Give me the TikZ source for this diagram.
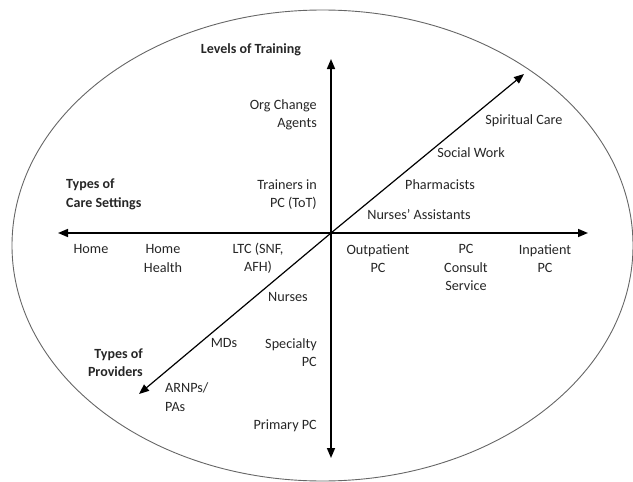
\documentclass[tikz,border=0pt]{standalone}
\usepackage{fontspec}
\setmainfont{Carlito}
\usetikzlibrary{arrows.meta}
\begin{document}
\begin{tikzpicture}[x=1pt,y=-1pt,
  lbl/.style={inner sep=0pt,text=black!85,font=\fontsize{14.2}{18.5}\selectfont},
  head/.style={lbl,font=\fontsize{14}{18.5}\selectfont\bfseries},
  axis/.style={line width=1.6pt,-{Triangle[length=10pt,width=8pt]}},
  rim/.style={draw=black!60,line width=0.9pt}]
\useasboundingbox (0,0) rectangle (633,482);
% enclosing ellipse
\draw[rim] (322.5,245.5) ellipse [x radius=310.5, y radius=235.5];
% axis end points
\coordinate (O) at (331,233);
\coordinate (N) at (331,59);
\coordinate (S) at (331,458);
\coordinate (W) at (58,233);
\coordinate (E) at (588,233);
\coordinate (NE) at (524,74);
\coordinate (SW) at (139,394);
\draw[axis] (O) -- (N);
\draw[axis] (O) -- (S);
\draw[axis] (O) -- (W);
\draw[axis] (O) -- (E);
\draw[axis,line width=1.2pt] (O) -- (NE);
\draw[axis,line width=1.2pt] (O) -- (SW);
% axis titles
\node[head] (tTrain) at (251,50) {Levels of Training};
\node[head,align=left,anchor=west] (tCare) at (66,194.5) {Types of\\Care Settings};
\node[head,align=right,anchor=east] (tProv) at (143,362.5) {Types of\\Providers};
% levels of training
\node[lbl,align=right,anchor=east] (org) at (317,115) {Org Change\\Agents};
\node[lbl,align=right,anchor=east] (tot) at (317,194.5) {Trainers in\\PC (ToT)};
\node[lbl,align=right,anchor=east] (spec) at (317,352.5) {Specialty\\PC};
\node[lbl,anchor=east] (prim) at (317,426) {Primary PC};
% care settings
\node[lbl] (home) at (91,249) {Home};
\node[lbl,align=center] (hh) at (163,258.5) {Home\\Health};
\node[lbl,align=center] (ltc) at (258,258.5) {LTC (SNF,\\AFH)};
\node[lbl,align=center] (out) at (378,258.5) {Outpatient\\PC};
\node[lbl,align=center] (cons) at (466,267.5) {PC\\Consult\\Service};
\node[lbl,align=center] (inp) at (545,258.5) {Inpatient\\PC};
% providers
\node[lbl] (na) at (419,215) {Nurses’ Assistants};
\node[lbl] (ph) at (440,185) {Pharmacists};
\node[lbl] (sw) at (471,153) {Social Work};
\node[lbl] (sc) at (524,121) {Spiritual Care};
\node[lbl] (nu) at (288,297) {Nurses};
\node[lbl] (md) at (224,343) {MDs};
\node[lbl,align=left,anchor=west] (arnp) at (165,397) {ARNPs/\\PAs};
\end{tikzpicture}
\end{document}
